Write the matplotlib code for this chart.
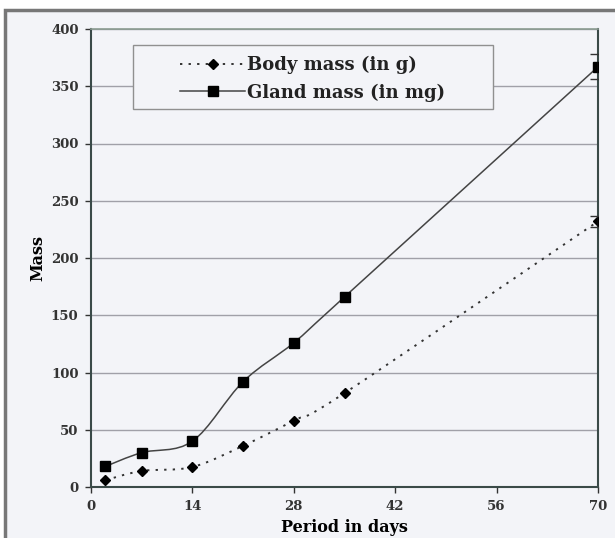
import numpy as np
import matplotlib.pyplot as plt
from matplotlib.path import Path
from matplotlib.patches import PathPatch, Rectangle
from matplotlib.lines import Line2D

days = [2, 7, 14, 21, 28, 35, 70]
body_mass = [6, 14, 17.5, 36, 58, 82, 232]
gland_mass = [18, 30, 40, 92, 126, 166, 367]
body_err = 5
gland_err = 11

xticks = [0, 14, 28, 42, 56, 70]
yticks = list(range(0, 401, 50))

bg = '#f3f4f8'
plt.rcParams['font.family'] = 'DejaVu Serif'


def smooth_path(x, y):
    # Excel-like smoothed line: Catmull-Rom segments as cubic Bezier
    x = np.asarray(x, float)
    y = np.asarray(y, float)
    verts = [(x[0], y[0])]
    codes = [Path.MOVETO]
    n = len(x)
    for i in range(n - 1):
        x0, y0 = (x[i - 1], y[i - 1]) if i > 0 else (x[i], y[i])
        x3, y3 = (x[i + 2], y[i + 2]) if i + 2 < n else (x[i + 1], y[i + 1])
        c1 = (x[i] + (x[i + 1] - x0) / 6, y[i] + (y[i + 1] - y0) / 6)
        c2 = (x[i + 1] - (x3 - x[i]) / 6, y[i + 1] - (y3 - y[i]) / 6)
        verts += [c1, c2, (x[i + 1], y[i + 1])]
        codes += [Path.CURVE4] * 3
    return Path(verts, codes)


fig = plt.figure(figsize=(6.15, 5.38), dpi=100)
fig.patch.set_facecolor('white')
fig.patches.append(Rectangle((5 / 615, -0.1), 1.1, 1 - 10 / 538 + 0.1,
                             transform=fig.transFigure, facecolor=bg,
                             edgecolor='#777777', linewidth=2.5, zorder=-10))

# axes box in pixels: x 91..598, y 29..487
ax = fig.add_axes([91 / 615, 1 - 487 / 538, 507 / 615, 458 / 538])
ax.set_facecolor(bg)

for yv in yticks[1:]:
    ax.axhline(yv, color='#a0a0a8', linewidth=1, zorder=1)

dots = (0, (1.2, 3.2))
ax.add_patch(PathPatch(smooth_path(days, body_mass), facecolor='none',
                       edgecolor='#333333', linewidth=1.4, linestyle=dots, zorder=3))
ax.add_patch(PathPatch(smooth_path(days, gland_mass), facecolor='none',
                       edgecolor='#444444', linewidth=1.1, zorder=3))

ax.plot(days, body_mass, linestyle='none', marker='D', markersize=5.5,
        color='black', zorder=4)
ax.plot(days, gland_mass, linestyle='none', marker='s', markersize=7.5,
        color='black', zorder=4)
ax.errorbar(days[-1:], body_mass[-1:], yerr=body_err, fmt='none',
            ecolor='#333333', capsize=6, elinewidth=1, zorder=4)
ax.errorbar(days[-1:], gland_mass[-1:], yerr=gland_err, fmt='none',
            ecolor='#333333', capsize=6, elinewidth=1, zorder=4)

ax.set_xlim(0, 70)
ax.set_ylim(0, 400)
ax.set_xticks(xticks)
ax.set_yticks(yticks)
ax.tick_params(direction='out', length=4, width=1, color='#333333',
               labelsize=9.5, labelcolor='#333333', pad=5)
for lbl in ax.get_xticklabels() + ax.get_yticklabels():
    lbl.set_fontweight('bold')
for side in ['left', 'bottom', 'right']:
    ax.spines[side].set_color('#3a4a48')
    ax.spines[side].set_linewidth(1.5)
ax.spines['top'].set_color('#8a9a90')
ax.spines['top'].set_linewidth(1.2)

ax.set_xlabel('Period in days', fontsize=11.5, fontweight='bold', labelpad=5)
ax.set_ylabel('Mass', fontsize=11.5, fontweight='bold', labelpad=3)

# legend: frame drawn separately, entries start at x=180
ax.add_patch(Rectangle(((133 - 91) / 507, (487 - 109) / 458), 360 / 507, 64 / 458,
                       transform=ax.transAxes, facecolor=bg, edgecolor='#909090',
                       linewidth=1, zorder=5))
handles = [
    Line2D([], [], color='#333333', linestyle=dots, linewidth=1.4,
           marker='D', markersize=5.5, markerfacecolor='black', markeredgecolor='black'),
    Line2D([], [], color='#444444', linewidth=1.1, marker='s', markersize=7.5,
           markerfacecolor='black', markeredgecolor='black'),
]
leg = ax.legend(handles, ['Body mass (in g)', 'Gland mass (in mg)'],
                loc='upper left', bbox_to_anchor=((180 - 91) / 507, (487 - 56) / 458),
                prop={'size': 13, 'weight': 'bold'}, frameon=False,
                handlelength=3.6, handletextpad=0.1, borderpad=0,
                labelspacing=0.5, borderaxespad=0)
leg.set_zorder(6)
for t in leg.get_texts():
    t.set_color('#222222')

fig.savefig('out.png', dpi=100, facecolor=fig.get_facecolor())
